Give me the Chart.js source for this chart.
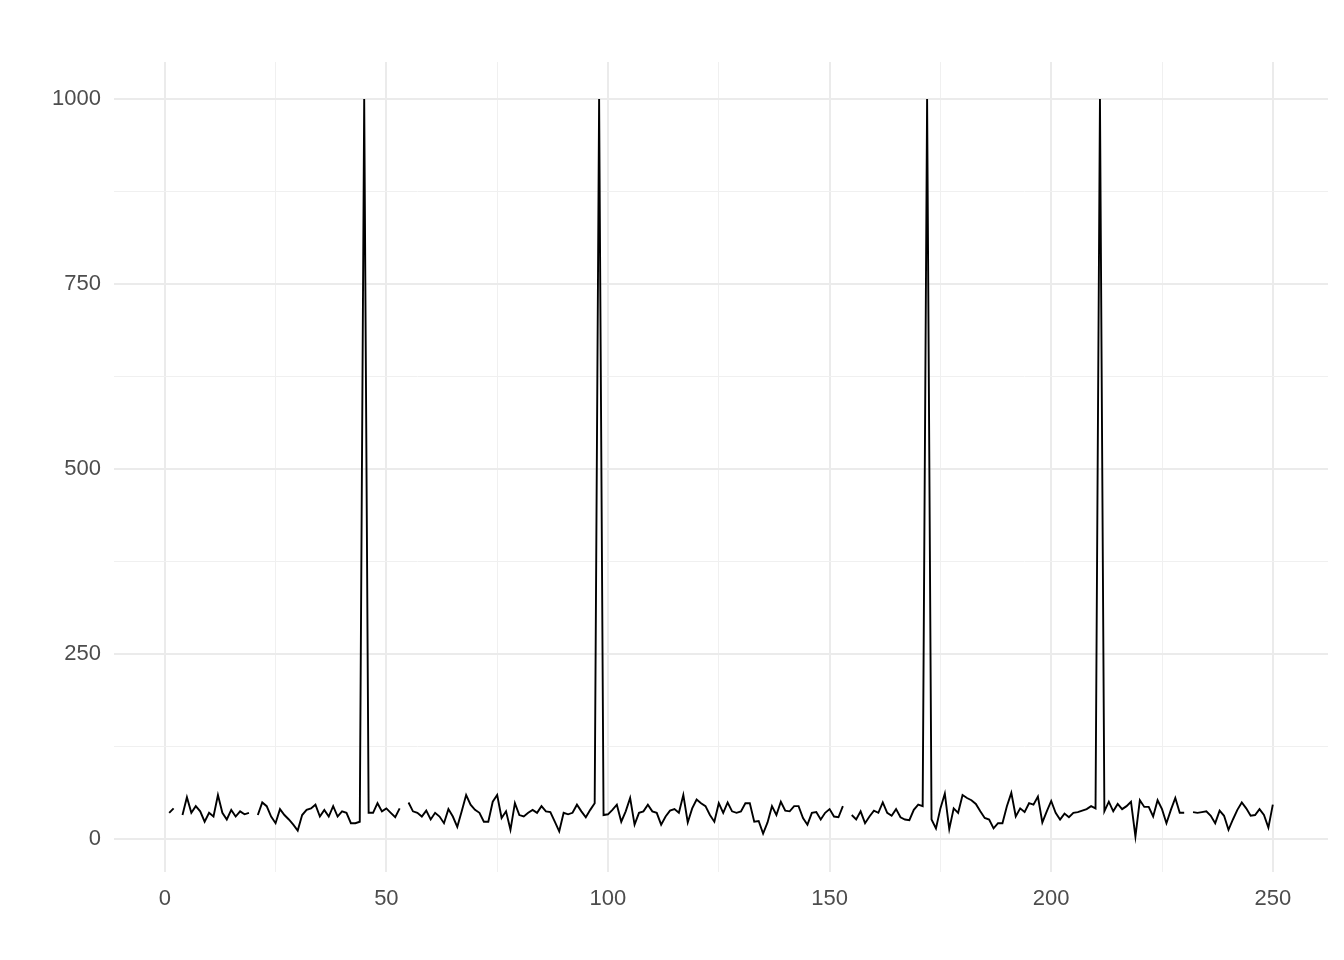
<!DOCTYPE html>
<html lang="en">
  <head>
    <meta charset="utf-8" />
    <script src="https://cdn.jsdelivr.net/npm/chart.js"></script>
    <title>index</title>
    <style>
      body { margin: 0; background: #ffffff; }
    </style>
  </head>
  <body>
    <canvas id="lineChart" width="1344" height="960"></canvas>
    <script>
      // x positions 1..250, null = missing value (gap in the line)
      const values = [
        35, 41, null, 32, 56, 35, 44, 37, 23, 35,
        30, 59, 35, 26, 39, 30, 37, 33, 35, null,
        32, 49, 44, 30, 21, 40, 32, 26, 19, 11,
        32, 39, 41, 46, 30, 39, 30, 44, 30, 37,
        35, 21, 21, 23, 1000, 35, 35, 48, 37, 41,
        35, 29, 41, null, 49, 37, 35, 30, 38, 26,
        35, 30, 21, 40, 30, 16, 37, 59, 46, 39,
        35, 23, 23, 50, 59, 28, 37, 12, 48, 32,
        30, 35, 39, 35, 44, 37, 36, 23, 10, 35,
        33, 35, 46, 37, 29, 39, 48, 1000, 32, 33,
        39, 46, 23, 37, 55, 19, 35, 37, 46, 37,
        35, 19, 30, 38, 40, 35, 59, 22, 41, 53,
        48, 44, 32, 23, 48, 35, 49, 37, 35, 37,
        48, 48, 23, 24, 7, 22, 44, 32, 50, 38,
        37, 44, 44, 28, 19, 35, 36, 26, 35, 40,
        30, 29, 44, null, 32, 26, 37, 21, 30, 38,
        35, 49, 35, 31, 40, 29, 26, 25, 39, 46,
        44, 1000, 26, 14, 41, 61, 13, 41, 35, 59,
        55, 52, 47, 37, 28, 26, 14, 21, 21, 44,
        62, 30, 41, 36, 48, 46, 57, 22, 37, 51,
        35, 26, 34, 29, 35, 36, 38, 40, 44, 41,
        1000, 37, 50, 37, 47, 40, 44, 50, 3, 52,
        43, 43, 30, 52, 40, 21, 39, 55, 35, 35,
        null, 36, 35, 36, 37, 31, 21, 38, 31, 12,
        26, 39, 49, 41, 31, 32, 40, 32, 15, 46,
      ];
      const xTicks = [0, 25, 50, 75, 100, 125, 150, 175, 200, 225, 250];
      const yTicks = [0, 125, 250, 375, 500, 625, 750, 875, 1000];

      const points = values.map((v, i) => ({ x: i + 1, y: v }));

      Chart.defaults.font.family = "'Liberation Sans', Arial, sans-serif";

      const data = {
        datasets: [
          {
            data: points,
            borderColor: "#000000",
            borderWidth: 1.9,
            pointRadius: 0,
            tension: 0,
            spanGaps: false,
          },
        ],
      };

      const config = {
        type: "line",
        data: data,
        options: {
          responsive: false,
          animation: false,
          layout: { padding: { top: 62, right: 16, left: 0, bottom: 0 } },
          plugins: {
            legend: { display: false },
            tooltip: { enabled: false },
          },
          scales: {
            x: {
              type: "linear",
              min: -11.45,
              max: 262.45,
              afterBuildTicks: (axis) => {
                axis.ticks = xTicks.map((v) => ({ value: v }));
              },
              afterFit: (axis) => {
                axis.height = 88;
              },
              border: { display: false },
              grid: {
                drawTicks: false,
                color: (ctx) => (ctx.tick && ctx.tick.value % 50 === 0 ? "#ebebeb" : "#f0f0f0"),
                lineWidth: (ctx) => (ctx.tick && ctx.tick.value % 50 === 0 ? 2 : 1),
              },
              ticks: {
                autoSkip: false,
                maxRotation: 0,
                padding: 14,
                color: "#4d4d4d",
                font: { size: 22 },
                callback: (v) => (v % 50 === 0 ? v : ""),
              },
            },
            y: {
              min: -45,
              max: 1050,
              afterBuildTicks: (axis) => {
                axis.ticks = yTicks.map((v) => ({ value: v }));
              },
              afterFit: (axis) => {
                axis.width = 114;
              },
              border: { display: false },
              grid: {
                drawTicks: false,
                color: (ctx) => (ctx.tick && ctx.tick.value % 250 === 0 ? "#ebebeb" : "#f0f0f0"),
                lineWidth: (ctx) => (ctx.tick && ctx.tick.value % 250 === 0 ? 2 : 1),
              },
              ticks: {
                autoSkip: false,
                padding: 13,
                color: "#4d4d4d",
                font: { size: 22 },
                callback: (v) => (v % 250 === 0 ? v : ""),
              },
            },
          },
        },
      };

      var lineChart = new Chart(document.getElementById("lineChart"), config);
    </script>
  </body>
</html>
